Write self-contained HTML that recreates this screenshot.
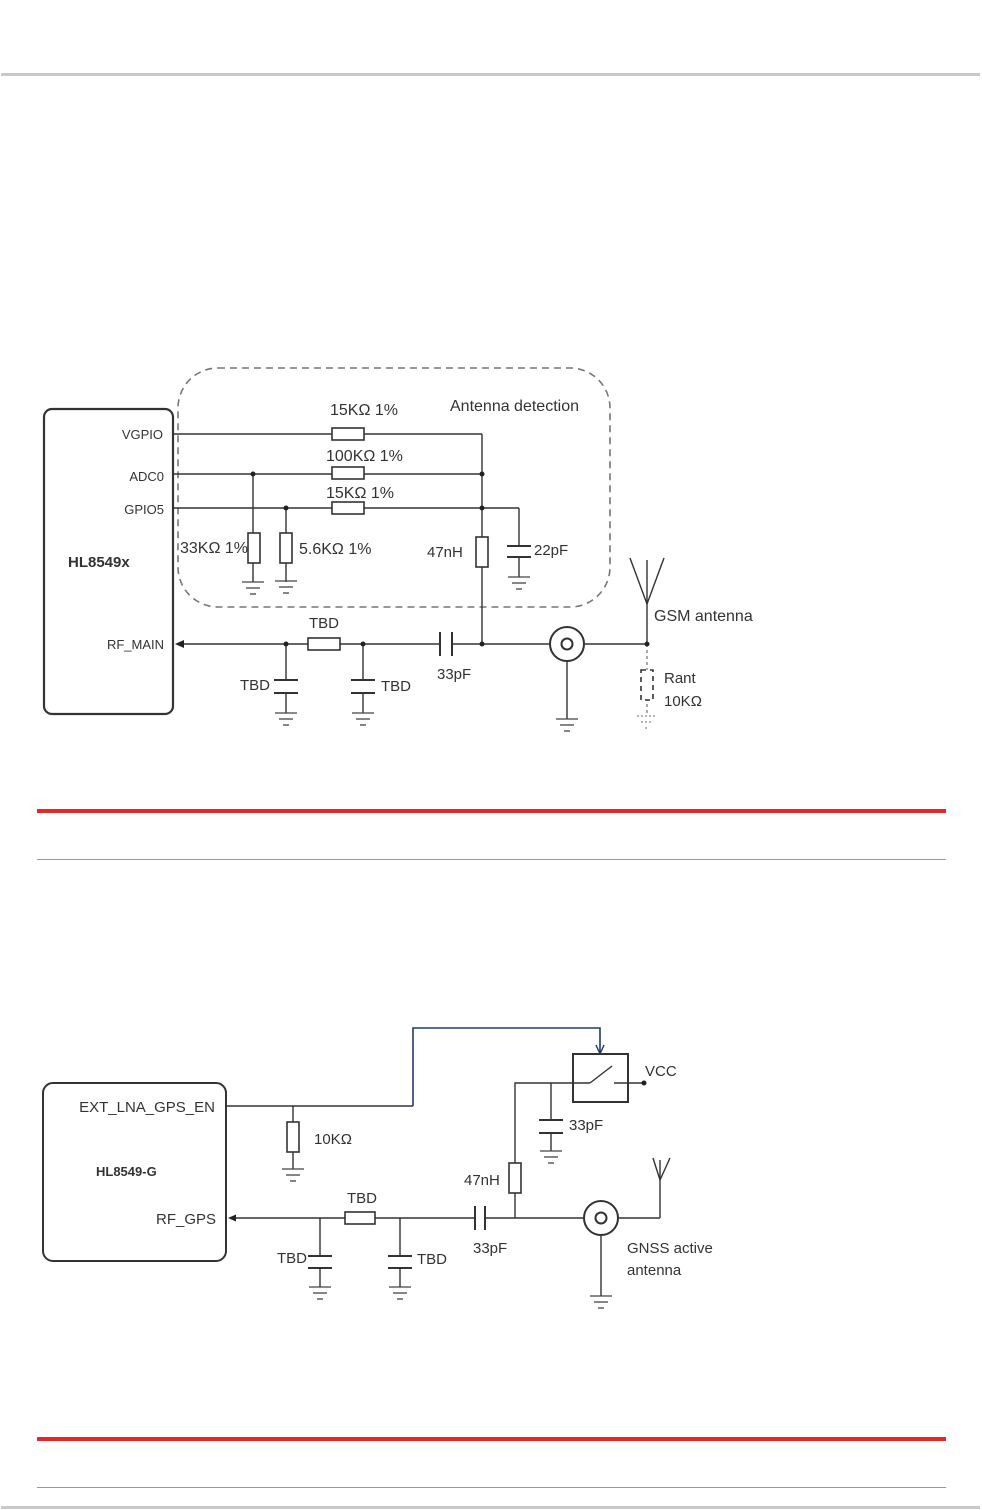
<!DOCTYPE html>
<html><head><meta charset="utf-8"><style>
html,body{margin:0;padding:0;background:#fff;}
svg{display:block;}
text{font-family:"Liberation Sans",sans-serif;fill:#333;}
</style></head><body>
<svg width="982" height="1510" viewBox="0 0 982 1510" xmlns="http://www.w3.org/2000/svg">
<defs>
<g id="gnd" stroke="#444" stroke-width="1.3"><line x1="-11" y1="0" x2="11" y2="0"/><line x1="-7" y1="6" x2="7" y2="6"/><line x1="-3" y1="12" x2="3" y2="12"/></g>
</defs>
<rect x="1" y="73" width="979" height="3" fill="#c8c8c8"/>
<rect x="1" y="1506" width="979" height="3" fill="#c8c8c8"/>
<rect x="37" y="809" width="909" height="4" fill="#e8262a"/>
<line x1="37" y1="859.5" x2="946" y2="859.5" stroke="#999" stroke-width="1"/>
<rect x="37" y="1437" width="909" height="4" fill="#e8262a"/>
<line x1="37" y1="1487.5" x2="946" y2="1487.5" stroke="#999" stroke-width="1"/>

<!-- TOP DIAGRAM -->
<g fill="none" stroke="#333" stroke-width="1.4">
<rect x="44" y="409" width="129" height="305" rx="8" stroke-width="2.2"/>
<rect x="178" y="368" width="432" height="239" rx="40" stroke="#777" stroke-width="1.6" stroke-dasharray="7,5"/>
<line x1="173" y1="434" x2="482" y2="434"/>
<line x1="482" y1="434" x2="482" y2="537"/>
<line x1="482" y1="567" x2="482" y2="644"/>
<line x1="173" y1="474" x2="482" y2="474"/>
<line x1="173" y1="508" x2="519" y2="508"/>
<line x1="519" y1="508" x2="519" y2="546"/>
<line x1="507" y1="546" x2="531" y2="546" stroke-width="2"/>
<line x1="507" y1="557" x2="531" y2="557" stroke-width="2"/>
<line x1="519" y1="557" x2="519" y2="577"/>
<line x1="253" y1="474" x2="253" y2="582"/>
<line x1="286" y1="508" x2="286" y2="582"/>
<line x1="180" y1="644" x2="440" y2="644"/>
<line x1="452" y1="644" x2="647" y2="644"/>
<line x1="440" y1="632" x2="440" y2="656" stroke-width="2"/>
<line x1="452" y1="632" x2="452" y2="656" stroke-width="2"/>
<line x1="286" y1="644" x2="286" y2="680"/>
<line x1="274" y1="680" x2="298" y2="680" stroke-width="2"/>
<line x1="274" y1="693" x2="298" y2="693" stroke-width="2"/>
<line x1="286" y1="693" x2="286" y2="713"/>
<line x1="363" y1="644" x2="363" y2="680"/>
<line x1="351" y1="680" x2="375" y2="680" stroke-width="2"/>
<line x1="351" y1="693" x2="375" y2="693" stroke-width="2"/>
<line x1="363" y1="693" x2="363" y2="713"/>
<circle cx="567" cy="644" r="17" fill="#fff" stroke-width="2"/>
<circle cx="567" cy="644" r="5.5" stroke-width="2"/>
<line x1="567" y1="661" x2="567" y2="719"/>
<line x1="647" y1="644" x2="647" y2="560"/>
<line x1="647" y1="604" x2="630" y2="558"/>
<line x1="647" y1="604" x2="664" y2="558"/>
<line x1="647" y1="644" x2="647" y2="716" stroke="#888" stroke-dasharray="3,3"/>
<rect x="641" y="670" width="12" height="30" fill="#fff" stroke="#333" stroke-width="1.6" stroke-dasharray="5,4"/>
</g>
<rect x="332" y="428" width="32" height="12" fill="#fff" stroke="#333" stroke-width="1.6"/>
<rect x="332" y="467" width="32" height="12" fill="#fff" stroke="#333" stroke-width="1.6"/>
<rect x="332" y="502" width="32" height="12" fill="#fff" stroke="#333" stroke-width="1.6"/>
<rect x="476" y="537" width="12" height="30" fill="#fff" stroke="#333" stroke-width="1.6"/>
<rect x="248" y="533" width="12" height="30" fill="#fff" stroke="#333" stroke-width="1.6"/>
<rect x="280" y="533" width="12" height="30" fill="#fff" stroke="#333" stroke-width="1.6"/>
<rect x="308" y="638" width="32" height="12" fill="#fff" stroke="#333" stroke-width="1.6"/>
<g fill="#222">
<circle cx="253" cy="474" r="2.5"/><circle cx="482" cy="474" r="2.5"/>
<circle cx="286" cy="508" r="2.5"/><circle cx="482" cy="508" r="2.5"/>
<circle cx="286" cy="644" r="2.5"/><circle cx="363" cy="644" r="2.5"/>
<circle cx="482" cy="644" r="2.5"/><circle cx="647" cy="644" r="2.5"/>
<path d="M175 644 L184 640 L184 648 Z"/>
</g>
<use href="#gnd" x="253" y="582"/><use href="#gnd" x="286" y="581"/>
<use href="#gnd" x="519" y="577"/>
<use href="#gnd" x="286" y="713"/><use href="#gnd" x="363" y="713"/>
<use href="#gnd" x="567" y="719"/>
<g stroke="#888" stroke-width="1.3" stroke-dasharray="2,2"><line x1="637" y1="716" x2="657" y2="716"/><line x1="641" y1="722" x2="653" y2="722"/><line x1="645" y1="728" x2="649" y2="728"/></g>

<g font-size="15">
<text x="163" y="439" text-anchor="end" font-size="13">VGPIO</text>
<text x="164" y="481" text-anchor="end" font-size="13">ADC0</text>
<text x="164" y="514" text-anchor="end" font-size="13">GPIO5</text>
<text x="164" y="649" text-anchor="end" font-size="13">RF_MAIN</text>
<text x="68" y="567" font-weight="bold" font-size="15" fill="#000">HL8549x</text>
<text x="330" y="415" font-size="16">15KΩ 1%</text>
<text x="326" y="461" font-size="16">100KΩ 1%</text>
<text x="326" y="498" font-size="16">15KΩ 1%</text>
<text x="450" y="411" font-size="16">Antenna detection</text>
<text x="180" y="553" font-size="16">33KΩ 1%</text>
<text x="299" y="554" font-size="16">5.6KΩ 1%</text>
<text x="427" y="557">47nH</text>
<text x="534" y="555">22pF</text>
<text x="309" y="628">TBD</text>
<text x="240" y="690">TBD</text>
<text x="381" y="691">TBD</text>
<text x="437" y="679">33pF</text>
<text x="654" y="621" font-size="16">GSM antenna</text>
<text x="664" y="683" fill="#999">Rant</text>
<text x="664" y="706" fill="#999">10KΩ</text>
</g>

<!-- BOTTOM DIAGRAM -->
<g fill="none" stroke="#333" stroke-width="1.4">
<rect x="43" y="1083" width="183" height="178" rx="10" stroke-width="2"/>
<line x1="226" y1="1106" x2="413" y2="1106"/>
<polyline points="413,1106 413,1028 600,1028 600,1052" stroke="#1f3b6e" stroke-width="1.6"/>
<line x1="293" y1="1106" x2="293" y2="1169"/>
<rect x="573" y="1054" width="55" height="48" stroke-width="2"/>
<line x1="614" y1="1083" x2="644" y2="1083"/>
<line x1="573" y1="1083" x2="590" y2="1083"/>
<line x1="590" y1="1083" x2="612" y2="1066"/>
<polyline points="573,1083 515,1083 515,1218"/>
<line x1="551" y1="1083" x2="551" y2="1120"/>
<line x1="539" y1="1120" x2="563" y2="1120" stroke-width="2"/>
<line x1="539" y1="1133" x2="563" y2="1133" stroke-width="2"/>
<line x1="551" y1="1133" x2="551" y2="1151"/>
<line x1="232" y1="1218" x2="475" y2="1218"/>
<line x1="485" y1="1218" x2="660" y2="1218"/>
<line x1="475" y1="1206" x2="475" y2="1230" stroke-width="2"/>
<line x1="485" y1="1206" x2="485" y2="1230" stroke-width="2"/>
<line x1="320" y1="1218" x2="320" y2="1256"/>
<line x1="308" y1="1256" x2="332" y2="1256" stroke-width="2"/>
<line x1="308" y1="1268" x2="332" y2="1268" stroke-width="2"/>
<line x1="320" y1="1268" x2="320" y2="1287"/>
<line x1="400" y1="1218" x2="400" y2="1256"/>
<line x1="388" y1="1256" x2="412" y2="1256" stroke-width="2"/>
<line x1="388" y1="1268" x2="412" y2="1268" stroke-width="2"/>
<line x1="400" y1="1268" x2="400" y2="1287"/>
<circle cx="601" cy="1218" r="17" fill="#fff" stroke-width="2"/>
<circle cx="601" cy="1218" r="5.5" stroke-width="2"/>
<line x1="601" y1="1235" x2="601" y2="1296"/>
<line x1="660" y1="1218" x2="660" y2="1160"/>
<line x1="660" y1="1180" x2="653" y2="1158"/>
<line x1="660" y1="1180" x2="670" y2="1158"/>
</g>
<rect x="287" y="1122" width="12" height="30" fill="#fff" stroke="#333" stroke-width="1.6"/>
<rect x="509" y="1163" width="12" height="30" fill="#fff" stroke="#333" stroke-width="1.6"/>
<rect x="345" y="1212" width="30" height="12" fill="#fff" stroke="#333" stroke-width="1.6"/>
<circle cx="644" cy="1083" r="2.5" fill="#222"/>
<path d="M228 1218 L236 1214.5 L236 1221.5 Z" fill="#222"/>
<path d="M600 1054 L596 1045 M600 1054 L604 1045" stroke="#1f3b6e" stroke-width="1.4" fill="none"/>
<use href="#gnd" x="293" y="1169"/><use href="#gnd" x="551" y="1151"/>
<use href="#gnd" x="320" y="1287"/><use href="#gnd" x="400" y="1287"/>
<use href="#gnd" x="601" y="1296"/>
<g font-size="15">
<text x="215" y="1112" text-anchor="end">EXT_LNA_GPS_EN</text>
<text x="216" y="1224" text-anchor="end">RF_GPS</text>
<text x="96" y="1176" font-weight="bold" font-size="13" fill="#000">HL8549-G</text>
<text x="314" y="1144">10KΩ</text>
<text x="645" y="1076">VCC</text>
<text x="569" y="1130">33pF</text>
<text x="464" y="1185">47nH</text>
<text x="347" y="1203">TBD</text>
<text x="277" y="1263">TBD</text>
<text x="417" y="1264">TBD</text>
<text x="473" y="1253">33pF</text>
<text x="627" y="1253">GNSS active</text>
<text x="627" y="1275">antenna</text>
</g>
</svg>
</body></html>
